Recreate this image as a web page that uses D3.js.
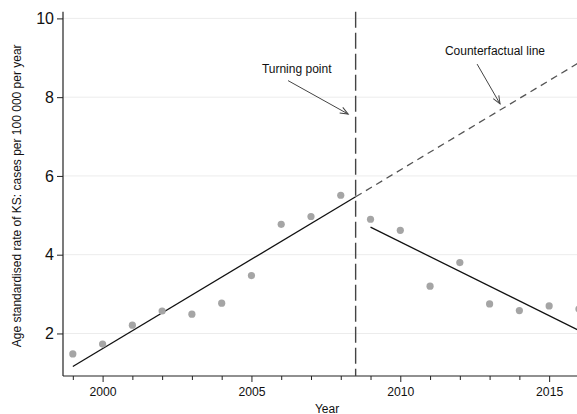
<!DOCTYPE html>
<html><head><meta charset="utf-8">
<script src="https://cdn.jsdelivr.net/npm/d3@7"></script>
<style>body{margin:0;background:#fff}svg{display:block;font-family:"Liberation Sans",Arial,sans-serif}</style>
</head><body>
<svg id="c" width="577" height="414"></svg>
<script>
const years = [1999,2000,2001,2002,2003,2004,2005,2006,2007,2008,2009,2010,2011,2012,2013,2014,2015,2016];
const rates = [1.48,1.73,2.21,2.57,2.49,2.77,3.47,4.77,4.97,5.51,4.90,4.62,3.20,3.80,2.75,2.58,2.70,2.62];
const preFitX = [1999, 2008.5];
const preFitY = [1.16, 5.47];
const counterX = [2008.5, 2017];
const counterY = [5.47, 9.33];
const postFitX = [2009, 2017];
const postFitY = [4.70, 1.70];
const turningYear = 2008.5;
const yTicks = [2,4,6,8,10];
const xLabelTicks = [2000,2005,2010,2015];
const annLabels = ["Turning point","Counterfactual line"];
const annTextX = [2006.52, 2013.18];
const annTextY = [8.61, 9.07];
const annFromX = [2006.23, 2012.58];
const annFromY = [8.42, 8.84];
const annToX = [2008.25, 2013.35];
const annToY = [7.57, 7.83];

const svg = d3.select("#c");
const W = 577;
const x = d3.scaleLinear().domain([1998.67, 2016.5]).range([63, 593.8]);
const y = d3.scaleLinear().domain([0.92, 10.17]).range([376, 11.7]);

// gridlines
svg.append("g").selectAll("line").data(yTicks).join("line")
  .attr("x1", 63).attr("x2", W).attr("y1", d=>y(d)).attr("y2", d=>y(d))
  .attr("stroke", "#ececec").attr("stroke-width", 1);

// axes
const yAxis = d3.axisLeft(y).tickValues(yTicks).tickSize(6).tickPadding(3);
const gy = svg.append("g").attr("transform","translate(63,0)").call(yAxis);
gy.select(".domain").attr("d", `M0,${y.range()[1]}V${y.range()[0]}`).attr("stroke","#222").attr("stroke-width",1.2);
gy.selectAll(".tick line").attr("stroke","#222");
gy.selectAll(".tick text").attr("font-size", 16).attr("fill","#111").attr("font-family","Liberation Sans, Arial, sans-serif");

const xAxisMinor = d3.axisBottom(x).tickValues(years.filter(d=>!xLabelTicks.includes(d))).tickSize(4).tickFormat("");
const gxm = svg.append("g").attr("transform","translate(0,376)").call(xAxisMinor);
gxm.select(".domain").attr("d", `M63,0H${W+20}`).attr("stroke","#222").attr("stroke-width",1.2);
gxm.selectAll(".tick line").attr("stroke","#222");
const xAxis = d3.axisBottom(x).tickValues(xLabelTicks).tickSize(6).tickPadding(5).tickFormat(d3.format("d"));
const gx = svg.append("g").attr("transform","translate(0,376)").call(xAxis);
gx.select(".domain").remove();
gx.selectAll(".tick line").attr("stroke","#222");
gx.selectAll(".tick text").attr("font-size", 12.2).attr("fill","#111").attr("font-family","Liberation Sans, Arial, sans-serif");

// axis titles
svg.append("text").attr("transform",`translate(21,${(y(0.92)+y(10.17))/2+2}) rotate(-90)`)
  .attr("text-anchor","middle").attr("font-size",12).attr("fill","#111")
  .text("Age standardised rate of KS: cases per 100 000 per year");
svg.append("text").attr("x",327).attr("y",412.5).attr("text-anchor","middle").attr("font-size",12).attr("fill","#111").text("Year");

// turning point line
svg.append("line").attr("x1", x(turningYear)).attr("x2", x(turningYear))
  .attr("y1", y(10.17)).attr("y2", y(0.92))
  .attr("stroke","#444").attr("stroke-width",1.4).attr("stroke-dasharray","16,5");

const line = d3.line().x(d=>x(d[0])).y(d=>y(d[1]));
svg.append("path").attr("d", line(d3.zip(counterX, counterY))).attr("fill","none")
  .attr("stroke","#555").attr("stroke-width",1.3).attr("stroke-dasharray","7,5");
svg.append("path").attr("d", line(d3.zip(preFitX, preFitY))).attr("fill","none").attr("stroke","#111").attr("stroke-width",1.3);
svg.append("path").attr("d", line(d3.zip(postFitX, postFitY))).attr("fill","none").attr("stroke","#111").attr("stroke-width",1.3);

// points
svg.append("g").selectAll("circle").data(d3.zip(years, rates)).join("circle")
  .attr("cx", d=>x(d[0])).attr("cy", d=>y(d[1])).attr("r", 3.6).attr("fill","#a5a5a5");

// annotations
svg.append("defs").append("marker").attr("id","ah").attr("viewBox","-10 -5 12 10")
  .attr("refX",0).attr("refY",0).attr("markerWidth",12).attr("markerHeight",10)
  .attr("markerUnits","userSpaceOnUse").attr("orient","auto")
  .append("path").attr("d","M-8,-3.2L0,0L-8,3.2").attr("fill","none").attr("stroke","#444").attr("stroke-width",1);
annLabels.forEach((lab,i)=>{
  svg.append("line").attr("x1",x(annFromX[i])).attr("y1",y(annFromY[i]))
    .attr("x2",x(annToX[i])).attr("y2",y(annToY[i])).attr("stroke","#444").attr("stroke-width",1)
    .attr("marker-end","url(#ah)");
  svg.append("text").attr("x",x(annTextX[i])).attr("y",y(annTextY[i])).attr("text-anchor","middle")
    .attr("font-size",12).attr("fill","#111").text(lab);
});
</script>
</body></html>
